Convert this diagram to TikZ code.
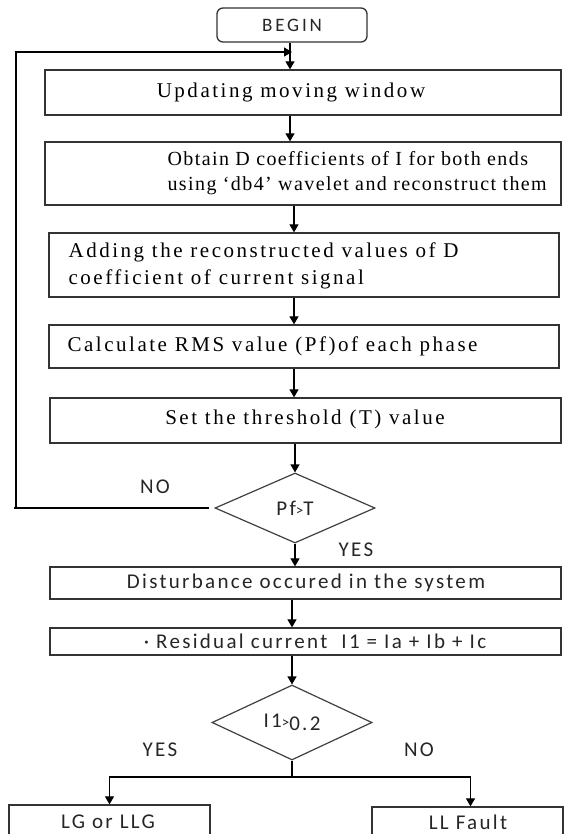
\documentclass[tikz,border=0pt]{standalone}
\usepackage{fontspec}
\newfontfamily\boxfont{Liberation Serif}[LetterSpace=12]
\newfontfamily\boxfontB{Liberation Serif}[LetterSpace=7]
\newfontfamily\labfont{Carlito}[LetterSpace=11]
\newfontfamily\beginfont{Carlito}[LetterSpace=15]
\usetikzlibrary{shapes.geometric,arrows.meta}
\tikzset{
  box/.style={draw=black!80, line width=1.3pt, inner sep=0pt},
  startbox/.style={box, rounded corners=6pt},
  decision/.style={diamond, draw=black!75, line width=1.2pt, inner sep=0pt},
  serif/.style={font=\boxfont\fontsize{21}{27}\selectfont, inner sep=0pt, align=left},
  sans/.style={font=\labfont\fontsize{21}{25}\selectfont, inner sep=0pt, text=black!85},
}
\newcommand{\gtsign}{{\fontsize{15}{15}\selectfont>}}
\begin{document}
\begin{tikzpicture}[x=1pt, y=-1pt, >={Triangle[length=8pt,width=9pt]}, line width=1.2pt]
    % 画布
    \clip (0,0) rectangle (571,834);
    \fill[white] (0,0) rectangle (571,834);
    % 主线位置
    \coordinate (axA) at (290,0);
    \coordinate (axB) at (294,0);
    % 开始
    \node[startbox, minimum width=150pt, minimum height=34pt, font=\beginfont\fontsize{19}{23}\selectfont, text=black!85] (begin) at (292,25) {BEGIN};
    % 方框
    \node[box, minimum width=516pt, minimum height=45pt] (upd) at (303,92.5) {};
    \node[serif] (upd-t) at (291,92) {Updating moving window};
    \node[box, minimum width=516pt, minimum height=63pt] (obt) at (303,173.5) {};
    \node[serif, font=\boxfontB\fontsize{20}{25}\selectfont, anchor=west] (obt-t) at (167,173.5) {Obtain D coefficients of I for both ends\\using ‘db4’ wavelet and reconstruct them};
    \node[box, minimum width=510pt, minimum height=64pt] (add) at (304,265) {};
    \node[serif, anchor=west] (add-t) at (68,266) {Adding the reconstructed values of D\\coefficient of current signal};
    \node[box, minimum width=510pt, minimum height=43pt] (rms) at (304,346.5) {};
    \node[serif, anchor=west] (rms-t) at (67,346) {Calculate RMS value (Pf)of each phase};
    \node[box, minimum width=511pt, minimum height=45pt] (thr) at (305.5,420.5) {};
    \node[serif] (thr-t) at (305,419) {Set the threshold (T) value};
    % 判断一
    \node[decision, minimum width=160pt, minimum height=70pt, sans] (dec1) at (295,508) {Pf\gtsign T};
    \node[box, minimum width=511pt, minimum height=32pt] (dist) at (305.5,583) {};
    \node[sans] (dist-t) at (306,583) {Disturbance occured in the system};
    \node[box, minimum width=511pt, minimum height=27pt] (res) at (305.5,641.5) {};
    \node[sans] (res-t) at (315,641) {· Residual current\ \ I1 = Ia + Ib + Ic};
    % 判断二
    \node[decision, minimum width=160pt, minimum height=75pt, sans] (dec2) at (292,722.5) {I1\gtsign\raisebox{-3pt}{0.2}};
    % 结果
    \node[box, minimum width=201pt, minimum height=50pt] (lg) at (109.5,830) {};
    \node[sans] (lg-t) at (108,822) {LG or LLG};
    \node[box, minimum width=191pt, minimum height=50pt] (ll) at (467.5,832) {};
    \node[sans] (ll-t) at (468,822) {LL Fault};
    % 标注
    \node[sans] (no1) at (155,487) {NO};
    \node[sans] (yes1) at (356,550) {YES};
    \node[sans] (yes2) at (160,750) {YES};
    \node[sans] (no2) at (419,750) {NO};
    % 箭头
    \draw[->] (begin.south -| axA) -- (upd.north -| axA);
    \draw[->] (upd.south -| axA) -- (obt.north -| axA);
    \draw[->] (obt.south -| axB) -- (add.north -| axB);
    \draw[->] (add.south -| axB) -- (rms.north -| axB);
    \draw[->] (rms.south -| axB) -- (thr.north -| axB);
    \draw[->] (thr.south -| dec1) -- (dec1.north);
    \draw[->] (dec1.south) -- (dist.north -| dec1);
    \draw[->] (dist.south -| dec2) -- (res.north -| dec2);
    \draw[->] (res.south -| dec2) -- (dec2.north);
    % 回路
    \coordinate (fbA) at (14,508);
    \coordinate (fbB) at (16,508);
    \coordinate (fbC) at (292,52);
    \draw ([xshift=-5pt]dec1.west) -- (fbA);
    \draw[->] (fbB) |- (fbC);
    % 分支
    \coordinate (br) at (292,777);
    \draw (dec2.south) -- (br);
    \draw[->] (br) -| (lg.north);
    \draw[->] (br) -| ([xshift=3pt]ll.north);
\end{tikzpicture}
\end{document}
